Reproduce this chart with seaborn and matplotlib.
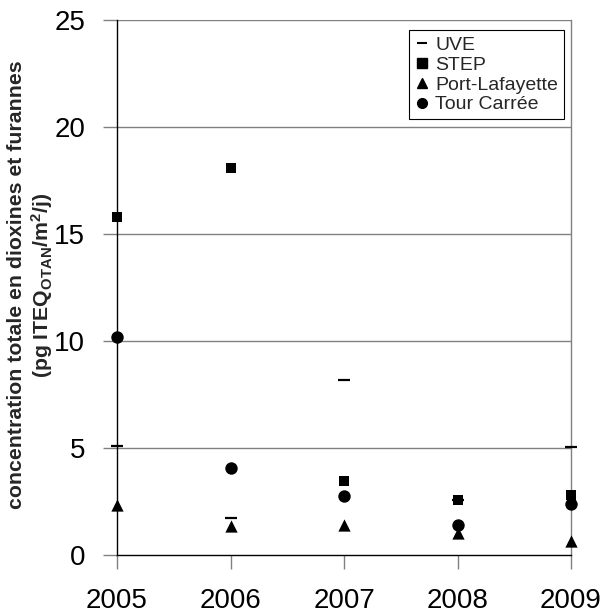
import matplotlib
matplotlib.use("Agg")
import matplotlib.pyplot as plt
import seaborn as sns
import pandas as pd
from matplotlib.lines import Line2D

years = [2005, 2006, 2007, 2008, 2009]
uve = [5.1, 1.75, 8.2, 2.55, 5.05]
step = [15.8, 18.1, 3.45, 2.55, 2.8]
port_lafayette = [2.35, 1.35, 1.4, 1.05, 0.65]
tour_carree = [10.2, 4.05, 2.75, 1.4, 2.4]
series_names = ["UVE", "STEP", "Port-Lafayette", "Tour Carrée"]
y_ticks = [0, 5, 10, 15, 20, 25]

sns.set_theme(style="white")
plt.rcParams["font.family"] = ["Liberation Sans", "DejaVu Sans"]
plt.rcParams["mathtext.fontset"] = "custom"
plt.rcParams["mathtext.rm"] = "Liberation Sans:bold"
plt.rcParams["mathtext.default"] = "rm"

df = pd.DataFrame({
    "year": years * 4,
    "value": uve + step + port_lafayette + tour_carree,
    "site": sum([[n] * len(years) for n in series_names], []),
})

fig = plt.figure(figsize=(6.01, 6.14), dpi=100)
ax = fig.add_axes([0.1947, 0.0961, 0.7554, 0.8713])

grid_color = "#808080"
for v in y_ticks[1:]:
    ax.axhline(v, color=grid_color, lw=1.0, zorder=1)

styles = {
    "STEP": dict(marker="s", s=52),
    "Port-Lafayette": dict(marker="^", s=78),
    "Tour Carrée": dict(marker="o", s=80),
}
for name, kw in styles.items():
    sns.scatterplot(data=df[df.site == name], x="year", y="value", ax=ax,
                    color="black", edgecolor="black", linewidth=0,
                    clip_on=False, zorder=3, legend=False, **kw)
sns.scatterplot(data=df[df.site == "UVE"], x="year", y="value", ax=ax,
                marker="_", s=80, color="black", linewidth=1.6,
                clip_on=False, zorder=4, legend=False)

ax.set_xlim(2005, 2009)
ax.set_ylim(0, 25)
ax.set_xticks(years)
ax.set_xticklabels([str(y) for y in years])
ax.set_yticks(y_ticks)
ax.set_xlabel("")
ax.set_ylabel("")

ax.tick_params(axis="both", which="major", length=10, width=1,
               color=grid_color, direction="out", labelsize=20,
               labelcolor="black", bottom=True, left=True)
ax.tick_params(axis="x", pad=14)
ax.tick_params(axis="y", pad=13)

ax.spines["top"].set_visible(False)
ax.spines["right"].set_color(grid_color)
ax.spines["left"].set_color("black")
ax.spines["bottom"].set_color("black")
for s in ["left", "right", "bottom"]:
    ax.spines[s].set_linewidth(1.0)

handles = [
    Line2D([], [], ls="none", marker="_", color="black", markersize=7, mew=1.5),
    Line2D([], [], ls="none", marker="s", color="black", markersize=6.5),
    Line2D([], [], ls="none", marker="^", color="black", markersize=7),
    Line2D([], [], ls="none", marker="o", color="black", markersize=7),
]
leg = ax.legend(handles, series_names, loc="upper right",
                bbox_to_anchor=(0.985, 0.981), borderaxespad=0,
                fancybox=False, framealpha=1, edgecolor="black",
                fontsize=14, handlelength=0.7, handletextpad=0.35,
                labelspacing=0.12, borderpad=0.3)
leg.get_frame().set_linewidth(0.8)

# Two-line y-axis title, sized so the long line spans ~445 px
label = fig.text(31 / 601, 1 - 285 / 614,
                 "concentration totale en dioxines et furannes\n"
                 "(pg ITEQ$_{OTAN}$/m$^{2}$/j)",
                 rotation=90, ha="center", va="center", fontsize=13.5,
                 fontweight="bold", linespacing=1.15)
fig.canvas.draw()
h = label.get_window_extent().height
label.set_fontsize(13.5 * 445 / h)

fig.savefig("out.png", dpi=100)
